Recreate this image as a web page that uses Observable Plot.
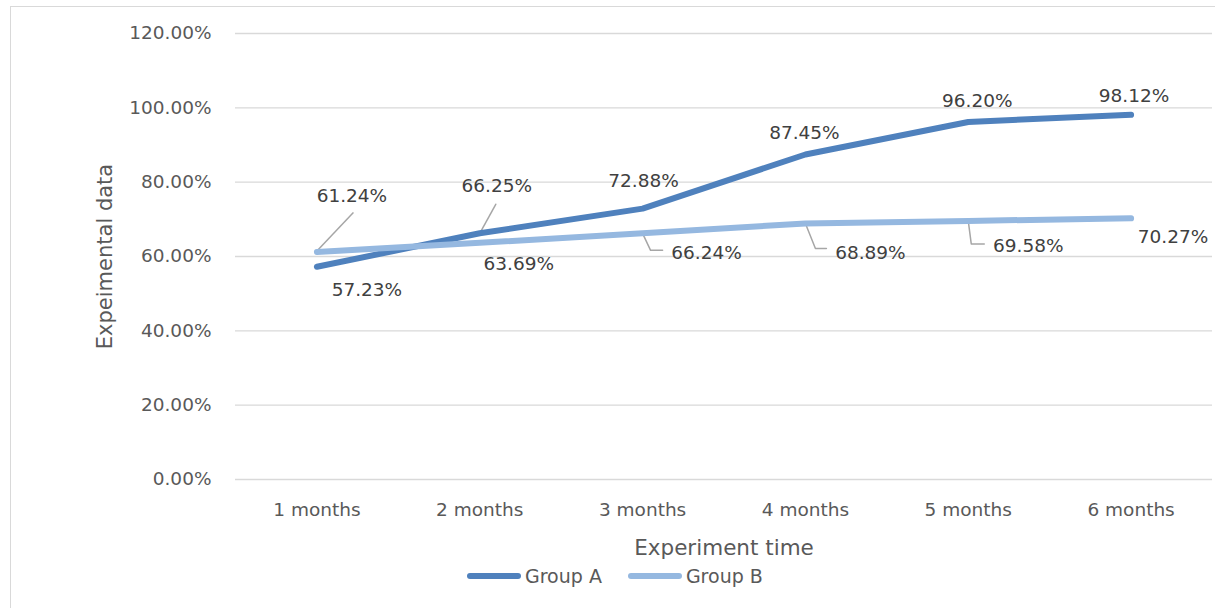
<!DOCTYPE html>
<html><head><meta charset="utf-8">
<script src="https://cdn.jsdelivr.net/npm/d3@7"></script>
<script src="https://cdn.jsdelivr.net/npm/@observablehq/plot@0.6"></script>
<style>
body{margin:0;background:#fff;}
#wrap{position:relative;width:1215px;height:608px;overflow:hidden;font-family:"DejaVu Sans",sans-serif;}
#border{position:absolute;left:10px;top:6px;width:1240px;height:640px;border:1px solid #d9d9d9;box-sizing:border-box;}
#chart{position:absolute;left:0;top:0;}
#legend{position:absolute;top:565px;left:467px;display:flex;align-items:center;font-size:19px;color:#595959;white-space:nowrap;}
.item{display:flex;align-items:center;margin-right:26px;}
.sw{width:54px;height:6px;border-radius:3px;margin-right:4px;}
</style></head>
<body>
<div id="wrap"><div id="border"></div><div id="chart"></div><div id="legend"></div></div>
<script>
const months = ["1 months","2 months","3 months","4 months","5 months","6 months"];
const groupA = [0.5723, 0.6625, 0.7288, 0.8745, 0.9620, 0.9812];
const groupB = [0.6124, 0.6369, 0.6624, 0.6889, 0.6958, 0.7027];
const seriesNames = ["Group A","Group B"];
const seriesColors = ["#4f81bd","#95b8e0"];
const yTicks = [0,0.2,0.4,0.6,0.8,1.0,1.2];

// label placement (pixel offsets from each point)
const labelOffsetsA = [[50,23],[17,-47],[1,-28],[-1,-21],[9,-21],[3,-19]];
const labelOffsetsB = [[35,-56],[39,21],[64,20],[65,30],[60,25],[42,19]];
const leadersA = {1: [[0,0],[16,-29]]};
const leadersB = {0: [[0,-1],[36,-39]], 2: [[0,0],[8,17],[20,17]], 3: [[0,0],[10,25],[21,25]], 4: [[0,0],[3,23],[16,23]]};

const W = 1215, H = 608, mL = 235, mR = 3, mT = 33, mB = 129;
const xUnit = (W - mL - mR) / 6;
const yUnit = (H - mT - mB) / 1.2;

const rows = [];
[groupA, groupB].forEach((vals, s) => vals.forEach((v, k) => rows.push({i: k + 1, v, series: seriesNames[s]})));

const labels = [];
const leaders = [];
[[groupA, labelOffsetsA, leadersA], [groupB, labelOffsetsB, leadersB]].forEach(([vals, offs, leads], s) => {
  vals.forEach((v, k) => {
    labels.push({i: k + 1 + offs[k][0] / xUnit, v: v - offs[k][1] / yUnit, text: d3.format(".2%")(v)});
    if (leads[k]) leads[k].forEach(([dx, dy]) => leaders.push({id: s + "-" + k, i: k + 1 + dx / xUnit, v: v - dy / yUnit}));
  });
});

const plot = Plot.plot({
  width: W, height: H,
  marginLeft: mL, marginRight: mR, marginTop: mT, marginBottom: mB,
  style: {fontFamily: "DejaVu Sans", fontSize: "18.5px", color: "#595959", background: "transparent"},
  x: {type: "linear", domain: [0.5, 6.5]},
  y: {domain: [0, 1.2]},
  color: {domain: seriesNames, range: seriesColors},
  marks: [
    Plot.gridY(yTicks, {stroke: "#d9d9d9", strokeOpacity: 1, strokeWidth: 1.3}),
    Plot.axisY({ticks: yTicks, tickFormat: d3.format(".2%"), tickSize: 0, tickPadding: 24, label: null, fontSize: 18.5}),
    Plot.axisX({ticks: [1,2,3,4,5,6], tickFormat: i => months[i - 1], tickSize: 0, tickPadding: 23, label: null, fontSize: 18.5}),
    Plot.text(["Experiment time"], {frameAnchor: "bottom", dy: 75, fontSize: 21.5, fill: "#595959"}),
    Plot.text(["Expeimental data"], {frameAnchor: "left", textAnchor: "middle", dx: -130, rotate: -90, fontSize: 21, fill: "#595959"}),
    Plot.line(leaders, {x: "i", y: "v", z: "id", stroke: "#a6a6a6", strokeWidth: 1.5}),
    Plot.line(rows.filter(d => d.series === "Group A"), {x: "i", y: "v", stroke: "series", strokeWidth: 6, strokeLinecap: "round", strokeLinejoin: "round"}),
    Plot.line(rows.filter(d => d.series === "Group B"), {x: "i", y: "v", stroke: "series", strokeWidth: 6, strokeLinecap: "round", strokeLinejoin: "round"}),
    Plot.text(labels, {x: "i", y: "v", text: "text", fontSize: 18.5, fill: "#404040"})
  ]
});
document.getElementById("chart").appendChild(plot);

const legend = document.getElementById("legend");
seriesNames.forEach((n, s) => {
  const it = document.createElement("div"); it.className = "item";
  const sw = document.createElement("div"); sw.className = "sw"; sw.style.background = seriesColors[s];
  const t = document.createElement("span"); t.textContent = n;
  it.appendChild(sw); it.appendChild(t); legend.appendChild(it);
});
</script>
</body></html>
